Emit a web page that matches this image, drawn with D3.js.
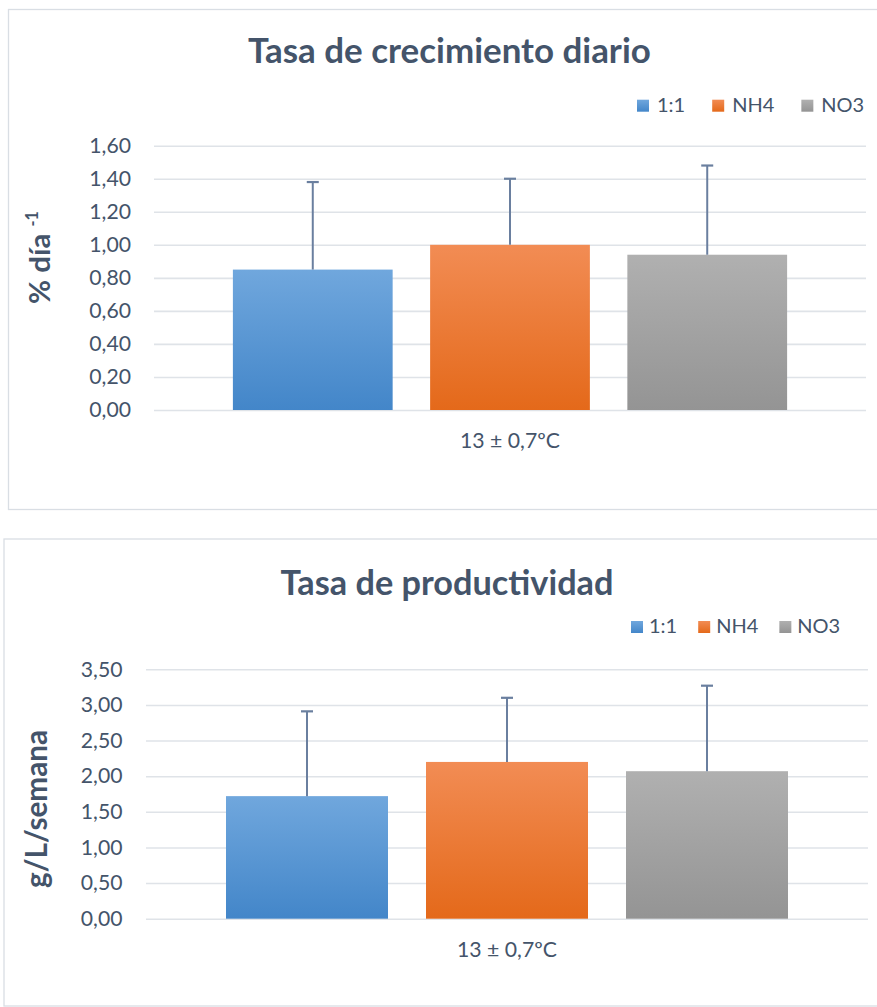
<!DOCTYPE html>
<html lang="es">
<head>
<meta charset="utf-8">
<title>Tasa de crecimiento y productividad</title>
<script src="https://cdn.jsdelivr.net/npm/d3@7"></script>
<style>
  html, body { margin: 0; padding: 0; background: #ffffff; }
  svg { display: block; font-family: Lato, "Open Sans", sans-serif; }
</style>
</head>
<body>
<svg id="chart" width="877" height="1007"></svg>
<script>
// ---- data ----
const categories = ["13 ± 0,7ºC"];
const seriesNames = ["1:1", "NH4", "NO3"];

const growthTitle = "Tasa de crecimiento diario";
const growthAxisLabel = "% día";
const growthAxisSup = "-1";
const growthValues = [0.85, 1.00, 0.94];
const growthErrors = [0.53, 0.40, 0.54];
const growthTicks = [0, 0.2, 0.4, 0.6, 0.8, 1.0, 1.2, 1.4, 1.6];

const prodTitle = "Tasa de productividad";
const prodAxisLabel = "g/L/semana";
const prodValues = [1.72, 2.20, 2.07];
const prodErrors = [1.19, 0.90, 1.20];
const prodTicks = [0, 0.5, 1.0, 1.5, 2.0, 2.5, 3.0, 3.5];

// ---- styling ----
const textColor = "#44546a";
const gridColor = "#dfe3e8";
const frameColor = "#d9dee4";
const errColor = "#6a7f9f";
const seriesGradients = [
  ["#70a7dd", "#4386c9"],
  ["#f28c54", "#e4691a"],
  ["#b0b0b0", "#949494"]
];

const esLocale = d3.formatLocale({ decimal: ",", thousands: ".", grouping: [3], currency: ["", " €"] });
const tickFormat = esLocale.format(".2f");

const svg = d3.select("#chart");
const defs = svg.append("defs");
seriesGradients.forEach((c, i) => {
  const g = defs.append("linearGradient")
    .attr("id", "grad" + i)
    .attr("x1", 0).attr("y1", 0).attr("x2", 0).attr("y2", 1);
  g.append("stop").attr("offset", "0%").attr("stop-color", c[0]);
  g.append("stop").attr("offset", "100%").attr("stop-color", c[1]);
});

// scale a text element's font size so that it spans the requested width
function fitWidth(sel, target) {
  const fs = parseFloat(sel.style("font-size"));
  const w = sel.node().getBBox().width;
  if (w > 0) sel.style("font-size", (fs * target / w) + "px");
  return sel;
}

function drawPanel(cfg) {
  const root = svg.append("g");

  // outer frame
  root.append("rect")
    .attr("x", cfg.frame.x).attr("y", cfg.frame.y)
    .attr("width", cfg.frame.w).attr("height", cfg.frame.h)
    .attr("fill", "#ffffff")
    .attr("stroke", frameColor).attr("stroke-width", 1.3);

  // title
  const title = root.append("text")
    .attr("x", cfg.titleX).attr("y", cfg.titleY)
    .attr("text-anchor", "middle")
    .attr("fill", textColor)
    .style("font-weight", 700).style("font-size", "30px")
    .text(cfg.title);
  fitWidth(title, cfg.titleW);

  // scales
  const x0 = d3.scaleBand().domain(categories).range([cfg.plot.x0, cfg.plot.x1]);
  const x1 = d3.scaleBand().domain(seriesNames).range([0, x0.bandwidth()])
    .paddingInner(0.19).paddingOuter(0.4);
  const y = d3.scaleLinear().domain([0, cfg.ticks[cfg.ticks.length - 1]])
    .range([cfg.plot.y0, cfg.plot.y1]);

  // gridlines + tick labels
  const axis = root.append("g")
    .attr("transform", `translate(${cfg.plot.x0},0)`)
    .call(d3.axisLeft(y).tickValues(cfg.ticks).tickFormat(tickFormat)
      .tickSize(-(cfg.plot.x1 - cfg.plot.x0)).tickPadding(cfg.tickPad));
  axis.select(".domain").remove();
  axis.selectAll(".tick line").attr("stroke", gridColor).attr("stroke-width", 1.6);
  axis.selectAll(".tick text")
    .attr("fill", textColor)
    .style("font-size", "21.2px")
    .style("font-family", "Lato, sans-serif");

  // bars
  const groups = root.selectAll(".cat").data(categories).join("g")
    .attr("transform", d => `translate(${x0(d)},0)`);
  const rows = seriesNames.map((s, i) => ({ s, i, v: cfg.values[i], e: cfg.errors[i] }));
  groups.selectAll("rect.bar").data(rows).join("rect")
    .attr("class", "bar")
    .attr("x", d => x1(d.s))
    .attr("width", x1.bandwidth())
    .attr("y", d => y(d.v))
    .attr("height", d => y(0) - y(d.v))
    .attr("fill", d => `url(#grad${d.i})`);

  // error bars (positive direction)
  const cap = 12;
  groups.selectAll("line.err").data(rows).join("line")
    .attr("class", "err")
    .attr("x1", d => x1(d.s) + x1.bandwidth() / 2)
    .attr("x2", d => x1(d.s) + x1.bandwidth() / 2)
    .attr("y1", d => y(d.v))
    .attr("y2", d => y(d.v + d.e))
    .attr("stroke", errColor).attr("stroke-width", 2);
  groups.selectAll("line.cap").data(rows).join("line")
    .attr("class", "cap")
    .attr("x1", d => x1(d.s) + x1.bandwidth() / 2 - cap / 2)
    .attr("x2", d => x1(d.s) + x1.bandwidth() / 2 + cap / 2)
    .attr("y1", d => y(d.v + d.e))
    .attr("y2", d => y(d.v + d.e))
    .attr("stroke", errColor).attr("stroke-width", 2.2);

  // category label
  groups.append("text")
    .attr("x", x0.bandwidth() / 2)
    .attr("y", cfg.catY)
    .attr("text-anchor", "middle")
    .attr("fill", textColor)
    .style("font-size", "21px")
    .text(d => d)
    .each(function () { fitWidth(d3.select(this), cfg.catW); });

  // y-axis title
  const yt = root.append("text")
    .attr("transform", `translate(${cfg.yTitle.x},${cfg.yTitle.y}) rotate(-90)`)
    .attr("text-anchor", "middle")
    .attr("fill", textColor)
    .style("font-weight", 700).style("font-size", "30px");
  yt.append("tspan").text(cfg.yLabel);
  if (cfg.ySup) {
    yt.append("tspan").text(" ");
    yt.append("tspan").style("font-size", "0.55em").attr("dy", "-0.72em").text(cfg.ySup);
  }
  fitWidth(yt, cfg.yTitle.w);

  // legend
  const lg = root.append("g");
  let lx = cfg.legend.x;
  seriesNames.forEach((s, i) => {
    lg.append("rect")
      .attr("x", lx).attr("y", cfg.legend.y - cfg.legend.sq)
      .attr("width", cfg.legend.sq).attr("height", cfg.legend.sq)
      .attr("fill", `url(#grad${i})`);
    const t = lg.append("text")
      .attr("x", lx + cfg.legend.sq + cfg.legend.gap1)
      .attr("y", cfg.legend.y)
      .attr("fill", textColor)
      .style("font-size", cfg.legend.fs + "px")
      .text(s);
    lx += cfg.legend.sq + cfg.legend.gap1 + t.node().getComputedTextLength() + cfg.legend.gap2;
  });
}

drawPanel({
  title: growthTitle, yLabel: growthAxisLabel, ySup: growthAxisSup,
  values: growthValues, errors: growthErrors, ticks: growthTicks,
  frame: { x: 8.5, y: 9.5, w: 880, h: 500 },
  plot: { x0: 154, x1: 866, y0: 410, y1: 145.7 },
  tickPad: 23,
  titleX: 449.4, titleY: 63, titleW: 403,
  catY: 448.3, catW: 100,
  yTitle: { x: 50, y: 257.5, w: 93 },
  legend: { x: 637, y: 111.7, sq: 12, gap1: 8, gap2: 27, fs: 20 }
});

drawPanel({
  title: prodTitle, yLabel: prodAxisLabel, ySup: null,
  values: prodValues, errors: prodErrors, ticks: prodTicks,
  frame: { x: 4, y: 539, w: 880, h: 467 },
  plot: { x0: 146, x1: 868, y0: 918.7, y1: 669.3 },
  tickPad: 23.5,
  titleX: 447, titleY: 594.8, titleW: 333,
  catY: 957, catW: 100,
  yTitle: { x: 47, y: 809, w: 158 },
  legend: { x: 631, y: 633, sq: 12, gap1: 6, gap2: 21, fs: 20 }
});
</script>
</body>
</html>
